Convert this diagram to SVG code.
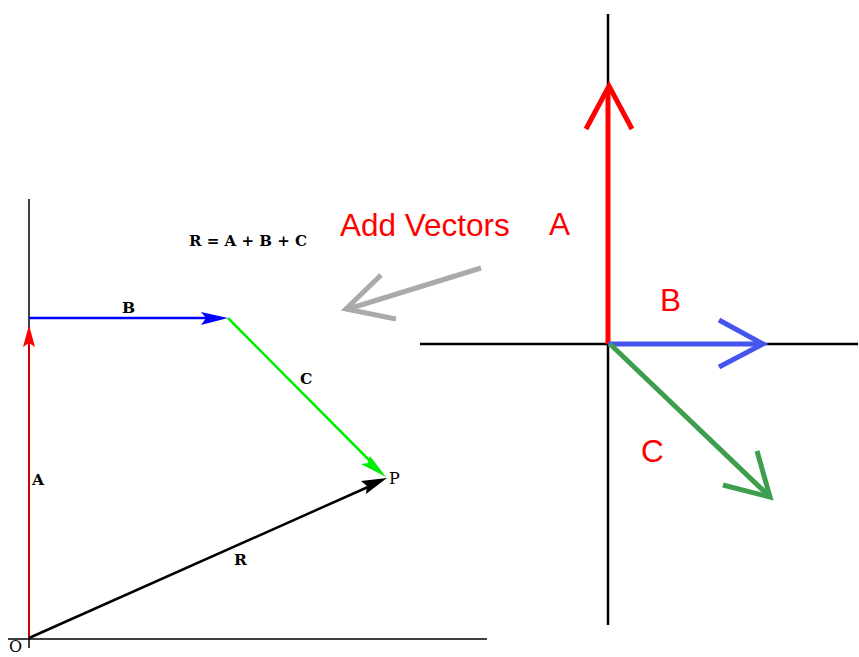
<svg xmlns="http://www.w3.org/2000/svg" width="859" height="657" viewBox="0 0 859 657">
<style>
.ax{stroke:#000;stroke-width:1.5;fill:none}
.ax2{stroke:#000;stroke-width:2.5;fill:none}
.lbl{font-family:"DejaVu Serif",serif;font-weight:bold;font-size:15.5px;fill:#000}
.lblr{font-family:"DejaVu Serif",serif;font-size:16px;fill:#000}
.big{font-family:"Liberation Sans",Arial,sans-serif;font-size:31.5px;fill:#ff0000}
.open{fill:none;stroke-width:5;stroke-linecap:butt;stroke-linejoin:miter}
</style>
<rect width="859" height="657" fill="#fff"/>
<g id="left-axes">
<line class="ax" x1="29" y1="199" x2="29" y2="648"/>
<line class="ax" x1="8" y1="639" x2="487" y2="639"/>
</g>
<g id="connectors-left">
<g id="vecA">
<line x1="29" y1="638" x2="29" y2="340" stroke="#cc0000" stroke-width="2"/>
<path d="M29,325 L35,347 L29,343 L23,347 Z" fill="#ff0000"/>
</g>
<g id="vecB">
<line x1="29" y1="318" x2="210" y2="318" stroke="#0000ff" stroke-width="2.5"/>
<path d="M228,318 L201,312 L206,318 L201,325 Z" fill="#0000ff"/>
</g>
<g id="vecC">
<line x1="228" y1="318" x2="372" y2="463" stroke="#00ee00" stroke-width="2.5"/>
<path d="M386,477 L361,464 L368,463 L370,456 Z" fill="#00ee00"/>
</g>
<g id="vecR">
<line x1="29" y1="638" x2="368" y2="487" stroke="#000" stroke-width="2.5"/>
<path d="M387,478 L361,481 L367,486 L366,494 Z" fill="#000"/>
</g>
</g>
<g id="left-labels">
<text class="lbl" x="189" y="246" textLength="118" lengthAdjust="spacingAndGlyphs">R = A + B + C</text>
<text class="lbl" x="122" y="313">B</text>
<text class="lbl" x="300" y="384">C</text>
<text class="lbl" x="32" y="485">A</text>
<text class="lbl" x="234" y="565">R</text>
<text class="lblr" x="389" y="484">P</text>
<text class="lblr" x="9" y="652">O</text>
</g>
<g id="right-axes">
<line class="ax2" x1="608" y1="14" x2="608" y2="625"/>
<line class="ax2" x1="420" y1="344" x2="858" y2="344"/>
</g>
<g id="connectors-right">
<g id="rA">
<line x1="608" y1="344" x2="608" y2="88" stroke="#ff0000" stroke-width="5"/>
<polyline class="open" points="586,129 609,86 632,129" stroke="#ff0000"/>
</g>
<g id="rB">
<line x1="608" y1="344" x2="762" y2="344" stroke="#4455ee" stroke-width="5"/>
<polyline class="open" points="719,320 763,344 719,367" stroke="#4455ee"/>
</g>
<g id="rC">
<line x1="610" y1="344" x2="769" y2="496" stroke="#3d9e4e" stroke-width="5"/>
<polyline class="open" points="757,451 770,497 723,485" stroke="#3d9e4e"/>
</g>
<g id="gray-arrow">
<line x1="481" y1="268" x2="348" y2="309" stroke="#aaaaaa" stroke-width="5"/>
<polyline class="open" points="381,275 346,309 396,319" stroke="#aaaaaa"/>
</g>
</g>
<g id="right-labels">
<text class="big" x="340" y="236">Add Vectors</text>
<text class="big" x="549" y="235">A</text>
<text class="big" x="660" y="311">B</text>
<text class="big" x="641" y="462">C</text>
</g>
</svg>
